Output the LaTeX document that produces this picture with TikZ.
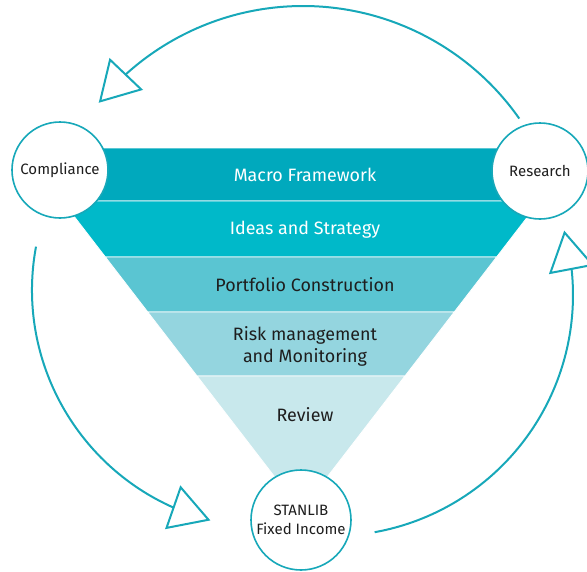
\documentclass[tikz,border=0pt]{standalone}
\usepackage{fontspec}
\setmainfont{Fira Sans}
\usetikzlibrary{positioning,calc,arrows.meta,bending}
\definecolor{funnelone}{HTML}{00A9BD}
\definecolor{funneltwo}{HTML}{00B9C9}
\definecolor{funnelthree}{HTML}{5AC5D2}
\definecolor{funnelfour}{HTML}{94D5DF}
\definecolor{funnelfive}{HTML}{C8E8EC}
\definecolor{tealline}{HTML}{17A8B9}
\definecolor{textgray}{HTML}{1E1E1E}

\begin{document}
\begin{tikzpicture}[x=1pt,y=-1pt,
    band/.style={draw=white, line width=0.8pt},
    stage/.style={font=\fontsize{17.9}{22}\selectfont, align=center, text=textgray},
    actor/.style={circle, draw=tealline, line width=1.6pt, fill=white, minimum size=96pt,
        inner sep=0pt, align=center, font=\fontsize{15}{19}\selectfont, text=textgray},
    flowarrow/.style={draw=tealline, line width=2pt, -{Triangle[open, length=40pt, width=46pt]}}]

    \useasboundingbox (0,0) rectangle (587,571);

    %--------------------------------------------
    % Funnel
    \coordinate (apex) at (301,511);
    \coordinate (tl) at (21.5,148);
    \coordinate (tr) at (580.5,148);
    \foreach \t [count=\i] in {0.854,0.6997,0.548,0.372}{
        \coordinate (l\i) at ($(apex)!\t!(tl)$);
        \coordinate (r\i) at ($(apex)!\t!(tr)$);
    }

    \path[band, fill=funnelone] (tl) -- (tr) -- (r1) -- (l1) -- cycle;
    \path[band, fill=funneltwo] (l1) -- (r1) -- (r2) -- (l2) -- cycle;
    \path[band, fill=funnelthree] (l2) -- (r2) -- (r3) -- (l3) -- cycle;
    \path[band, fill=funnelfour] (l3) -- (r3) -- (r4) -- (l4) -- cycle;
    \path[band, fill=funnelfive] (l4) -- (r4) -- (apex) -- cycle;

    \node[stage, text=white] (macro) at (305,175) {Macro Framework};
    \node[stage, text=white] (ideas) at (305,230) {Ideas and Strategy};
    \node[stage] (portfolio) at (305,285) {Portfolio Construction};
    \node[stage] (risk) at (305,346) {Risk management\\and Monitoring};
    \node[stage] (review) at (305,415) {Review};

    %--------------------------------------------
    % Circles
    \node[actor] (compliance) at (60,170) {Compliance};
    \node[actor] (research) at (540,171) {Research};
    \node[actor, minimum size=100pt] (stanlib) at (301,520) {STANLIB\\Fixed Income};

    %--------------------------------------------
    % Cycle arrows
    \coordinate (topstart) at ($(303,270)+(-35:264)$);
    \coordinate (leftstart) at ($(270,290)+(190.5:238)$);
    \coordinate (rightstart) at ($(332,295)+(79.8:241)$);

    \draw[flowarrow] (topstart) arc[start angle=-35, end angle=-140.7, radius=264];
    \draw[flowarrow] (leftstart) arc[start angle=190.5, end angle=104.5, radius=238];
    \draw[flowarrow] (rightstart) arc[start angle=79.8, end angle=-15.5, radius=241];
\end{tikzpicture}
\end{document}
